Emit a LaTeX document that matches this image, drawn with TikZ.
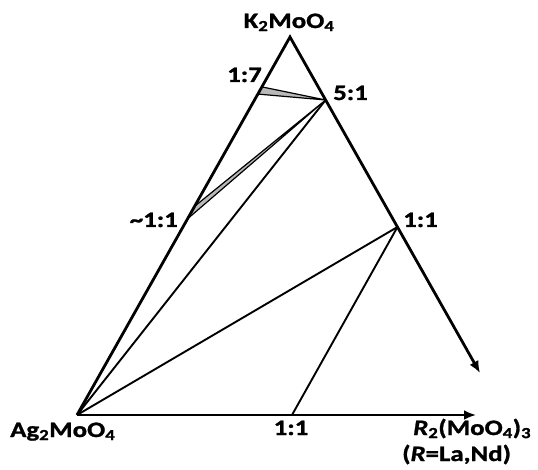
\documentclass[tikz,border=0pt]{standalone}
\usepackage{fontspec}
\setmainfont{Carlito}[FakeStretch=1.22, BoldFeatures={FakeBold=1.2}, BoldItalicFeatures={FakeBold=1.2}]
\usetikzlibrary{arrows.meta,calc}
\begin{document}
\begin{tikzpicture}[x=1pt,y=-1pt,
  edge/.style={line width=2.8pt, line join=miter},
  tie/.style={line width=1.9pt},
  wedge/.style={fill=gray!55, draw=black, line width=1.2pt, line join=round},
  lbl/.style={font=\bfseries\fontsize{22}{26}\selectfont, inner sep=0pt},
  tip/.style={-{Latex[length=12pt,width=10pt]}}]
\useasboundingbox (0,0) rectangle (538,470);
% vertices
\coordinate (K) at (290,37);
\coordinate (Ag) at (77,415);
\coordinate (Rend) at (480,373);
\coordinate (Bend) at (476,415);
% points on edges
\coordinate (P17) at ($(K)!0.132!(Ag)$);
\coordinate (P17b) at ($(K)!0.151!(Ag)$);
\coordinate (P51) at ($(K)!0.1875!(Rend)$);
\coordinate (W2a) at ($(K)!0.448!(Ag)$);
\coordinate (P11L) at ($(K)!0.481!(Ag)$);
\coordinate (R11) at ($(K)!0.5655!(Rend)$);
\coordinate (B11) at (292,415);
% wedges
\draw[wedge] (P17) -- (P51) -- (P17b) -- cycle;
\draw[wedge] (W2a) -- (P51) -- (P11L) -- cycle;
% tie lines
\draw[tie] (Ag) -- (P51);
\draw[tie] (Ag) -- (R11);
\draw[tie] (R11) -- (B11);
% triangle
\draw[edge, tip] (Ag) -- (K) -- (Rend);
\draw[edge, tip] (Ag) -- (Bend);
% labels
\node[lbl, anchor=base] (lK) at (289,28) {K\textsubscript{2}MoO\textsubscript{4}};
\node[lbl, anchor=base east] (l17) at (262,82) {1:7};
\node[lbl, anchor=base west] (l51) at (333,100) {5:1};
\node[lbl, anchor=base east] (l11L) at (178,227) {\textasciitilde1:1};
\node[lbl, anchor=base west] (l11R) at (403,227) {1:1};
\node[lbl, anchor=base west] (lAg) at (10,437) {Ag\textsubscript{2}MoO\textsubscript{4}};
\node[lbl, anchor=base] (l11B) at (291,435) {1:1};
\node[lbl, anchor=base west] (lR) at (413,435) {\textit{R}\textsubscript{2}(MoO\textsubscript{4})\textsubscript{3}};
\node[lbl, anchor=base west] (lRLa) at (402,461) {(\textit{R}=La,Nd)};
\end{tikzpicture}
\end{document}
